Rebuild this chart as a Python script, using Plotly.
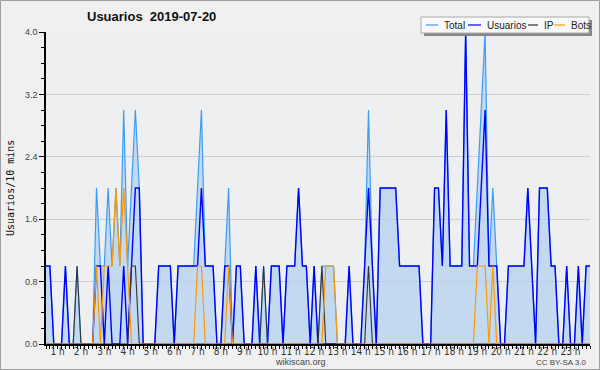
import plotly.graph_objects as go

# 10-minute slots from 00:30 (slot 3) to 23:50 (slot 143)
slots = list(range(3, 144))
hours = [s / 6 for s in slots]

total = [1,1,0,0,0,1,0,0,1,0,
         0,0,0,2,1,1,2,1,2,1,
         3,1,2,3,2,0,0,0,0,1,
         1,1,1,0,1,1,1,1,1,2,
         3,1,1,1,0,0,1,2,0,1,
         1,0,0,0,1,0,1,0,1,1,
         1,0,1,1,1,2,1,1,0,1,
         0,1,1,1,1,0,0,0,1,0,
         0,0,1,3,1,0,2,2,2,2,
         2,1,1,1,1,1,1,0,0,0,
         2,2,1,3,1,1,1,1,4,1,
         1,2,3,4,1,2,1,0,0,1,
         1,1,1,1,2,1,0,2,2,2,
         1,1,0,0,1,0,0,1,0,1,1]

usuarios = [1,1,0,0,0,1,0,0,0,0,
            0,0,0,1,1,0,1,0,0,0,
            1,0,1,2,2,0,0,0,0,1,
            1,1,1,0,1,1,1,1,1,1,
            2,1,1,1,0,0,1,1,0,1,
            1,0,0,0,1,0,0,0,1,1,
            1,0,1,1,1,2,1,1,0,1,
            0,0,0,0,0,0,0,0,1,0,
            0,0,1,2,1,0,2,2,2,2,
            2,1,1,1,1,1,1,0,0,0,
            2,2,1,3,1,1,1,1,4,1,
            1,1,2,3,1,1,1,0,0,1,
            1,1,1,1,2,1,0,2,2,2,
            1,1,0,0,1,0,0,1,0,1,1]

ip = [0,0,0,0,0,0,0,0,1,0,
      0,0,0,0,0,0,0,0,0,0,
      0,0,1,1,0,0,0,0,0,0,
      0,0,0,0,0,0,0,0,0,0,
      0,0,0,0,0,0,0,0,0,0,
      0,0,0,0,0,0,1,0,0,0,
      0,0,0,0,0,0,0,0,0,0,
      0,1,0,0,0,0,0,0,0,0,
      0,0,0,1,0,0,0,0,0,0,
      0,0,0,0,0,0,0,0,0,0,
      0,0,0,0,0,0,0,0,0,0,
      0,0,0,0,0,0,0,0,0,0,
      0,0,0,0,0,0,0,0,0,0,
      0,0,0,0,0,0,0,0,0,0,0]

bots = [0,0,0,0,0,0,0,0,0,0,
        0,0,0,1,0,1,1,1,2,1,
        2,1,0,0,0,0,0,0,0,0,
        0,0,0,0,0,0,0,0,0,1,
        1,0,0,0,0,0,0,1,0,0,
        0,0,0,0,0,0,0,0,0,0,
        0,0,0,0,0,0,0,0,0,0,
        0,0,1,1,1,0,0,0,0,0,
        0,0,0,0,0,0,0,0,0,0,
        0,0,0,0,0,0,0,0,0,0,
        0,0,0,0,0,0,0,0,0,0,
        0,1,1,1,0,1,0,0,0,0,
        0,0,0,0,0,0,0,0,0,0,
        0,0,0,0,0,0,0,0,0,0,0]

hour_ticks = list(range(1, 24))
hour_labels = [f"{h} h" for h in hour_ticks]
y_ticks = [0, 0.8, 1.6, 2.4, 3.2, 4.0]
y_labels = ["0.0", "0.8", "1.6", "2.4", "3.2", "4.0"]

series_names = ["Total", "Usuarios", "IP", "Bots"]
series_colors = ["#3d9cf5", "#0000ff", "#333333", "#ff9900"]

W, H = 600, 370
L, R, T, B = 46, 10, 32, 26
PW, PH = W - L - R, H - T - B


def px(x):
    return (x - L) / PW


def py(y):
    return (H - B - y) / PH


fig = go.Figure()
fig.add_trace(go.Scatter(x=hours, y=total, mode="lines", name="Total",
                         line=dict(color=series_colors[0], width=1.2),
                         fill="tozeroy", fillcolor="rgba(180,210,238,0.75)",
                         showlegend=False))
fig.add_trace(go.Scatter(x=hours, y=usuarios, mode="lines", name="Usuarios",
                         line=dict(color=series_colors[1], width=1.4), showlegend=False))
fig.add_trace(go.Scatter(x=hours, y=ip, mode="lines", name="IP",
                         line=dict(color=series_colors[2], width=1.1), showlegend=False))
fig.add_trace(go.Scatter(x=hours, y=bots, mode="lines", name="Bots",
                         line=dict(color=series_colors[3], width=1.2), showlegend=False))

tick_font = dict(family="Liberation Sans Narrow, DejaVu Sans Condensed, Liberation Sans", size=10, color="#333")

fig.update_layout(
    width=W, height=H,
    margin=dict(l=L, r=R, t=T, b=B, autoexpand=False),
    paper_bgcolor="#f0f0f0",
    plot_bgcolor="#eeeff1",
    showlegend=False,
    xaxis=dict(range=[hours[0], hours[-1]], tickvals=hour_ticks, ticktext=hour_labels,
               ticks="outside", ticklen=3, tickcolor="black", tickwidth=1,
               ticklabelstandoff=-6,
               showline=True, linecolor="black", linewidth=1.5, automargin=False,
               showgrid=False, zeroline=False, tickfont=tick_font,
               minor=dict(ticks="outside", ticklen=3, dtick=1/6, tick0=0,
                          tickcolor="black", showgrid=False)),
    yaxis=dict(range=[0, 4], tickvals=y_ticks, ticktext=y_labels,
               ticks="outside", ticklen=5, tickcolor="black", automargin=False,
               showline=True, linecolor="black", linewidth=1.5,
               showgrid=True, gridcolor="#cccccc", gridwidth=1, zeroline=False,
               tickfont=dict(family="Liberation Sans Narrow, Liberation Sans", size=9, color="#444"),
               minor=dict(ticks="outside", ticklen=3, dtick=0.2, tickcolor="black", showgrid=False)),
)

# title
fig.add_annotation(text="<b>Usuarios  2019-07-20</b>", xref="paper", yref="paper",
                   x=px(85), y=py(17), xanchor="left", yanchor="middle", showarrow=False,
                   font=dict(family="Liberation Sans", size=13, color="#111"))
# y axis title
fig.add_annotation(text="Usuarios/10 mins", xref="paper", yref="paper",
                   x=px(10), y=py(188), textangle=-90, showarrow=False,
                   xanchor="center", yanchor="middle",
                   font=dict(family="DejaVu Sans Mono", size=10, color="#111"))
# footer
fig.add_annotation(text="wikiscan.org", xref="paper", yref="paper",
                   x=px(300), y=py(362), showarrow=False, xanchor="center", yanchor="middle",
                   font=dict(family="Liberation Sans", size=9, color="#444"))
fig.add_annotation(text="CC BY-SA 3.0", xref="paper", yref="paper",
                   x=px(589), y=py(362), xanchor="right", yanchor="middle", showarrow=False,
                   font=dict(family="Liberation Sans Narrow, Liberation Sans", size=8, color="#444"))

# legend box (shadow + box)
fig.add_shape(type="rect", xref="paper", yref="paper", x0=px(424), x1=px(592), y0=py(36), y1=py(20),
              fillcolor="#888888", line=dict(width=0))
fig.add_shape(type="rect", xref="paper", yref="paper", x0=px(421), x1=px(589), y0=py(33), y1=py(17),
              fillcolor="#f8f8f8", line=dict(color="#aaaaaa", width=1))
leg_lines = [(426, 438), (468, 481), (528, 538), (554, 565)]
leg_text_x = [442, 485, 542, 569]
for name, col, (a, b), tx in zip(series_names, series_colors, leg_lines, leg_text_x):
    fig.add_shape(type="line", xref="paper", yref="paper", x0=px(a), x1=px(b), y0=py(25), y1=py(25),
                  line=dict(color=col, width=1.2))
    fig.add_annotation(text=name, xref="paper", yref="paper", x=px(tx), y=py(25),
                       xanchor="left", yanchor="middle", showarrow=False,
                       font=dict(family="Liberation Sans", size=10, color="#222"))

# outer frame
fig.add_shape(type="rect", xref="paper", yref="paper", x0=px(0.5), x1=px(599.5), y0=py(369.5), y1=py(0.5),
              line=dict(color="#a0a0a0", width=1), fillcolor="rgba(0,0,0,0)")

fig.write_html("out.html", config={"displayModeBar": False},
               post_script="document.body.style.margin='0';")
